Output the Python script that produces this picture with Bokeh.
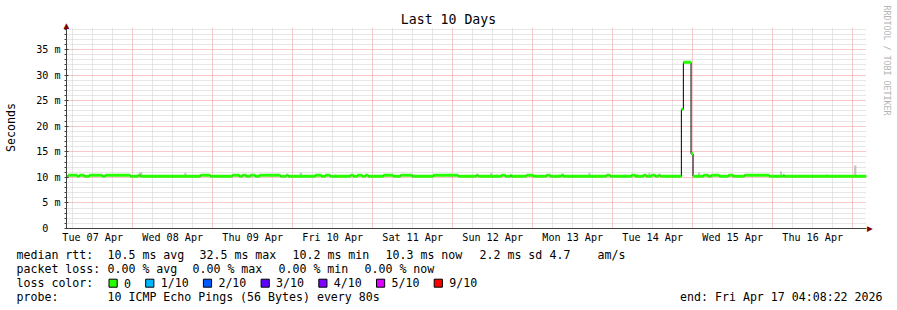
import math
from bokeh.plotting import figure
from bokeh.layouts import column
from bokeh.models import Range1d, FixedTicker, Label, ColumnDataSource
from bokeh.embed import file_html
from bokeh.resources import INLINE

# ---------------- data (time in hours since Tue 07 Apr 2026 00:00) ----------------
start_h = 4.14          # Tue 07 Apr 04:08:22
end_h = 244.14          # Fri 17 Apr 04:08:22

# median rtt (ms): value holds from change_h[i] until the next change
change_h = [4.14, 4.7, 7.4, 8.0, 9.5, 11.0, 14.9, 15.8, 23.3, 25.7,
            26.3, 44.3, 47.3, 53.9, 56.0, 56.9, 58.1, 59.3, 60.8, 62.0,
            68.3, 70.1, 70.7, 78.8, 80.6, 81.8, 83.3, 89.3, 90.2, 91.4,
            92.9, 93.8, 94.7, 99.2, 102.2, 104.3, 107.9, 114.2, 121.7, 127.1,
            127.7, 134.6, 135.8, 137.3, 137.6, 142.1, 144.2, 148.1, 149.3, 152.6,
            153.2, 166.1, 167.3, 173.6, 174.8, 177.2, 178.1, 179.6, 180.8, 181.7,
            182.3, 188.6, 189.2, 191.5, 192.1, 195.2, 196.7, 197.6, 200.0, 202.7,
            204.2, 207.5, 215.0, 219.2, 219.5]
median_ms = [10.2, 10.4, 10.2, 10.4, 10.2, 10.4, 10.2, 10.4, 10.2, 10.4,
             10.2, 10.4, 10.2, 10.4, 10.2, 10.4, 10.2, 10.4, 10.2, 10.4,
             10.2, 10.4, 10.2, 10.4, 10.2, 10.4, 10.2, 10.4, 10.2, 10.4,
             10.2, 10.4, 10.2, 10.4, 10.2, 10.4, 10.2, 10.4, 10.2, 10.4,
             10.2, 10.4, 10.2, 10.4, 10.2, 10.4, 10.2, 10.4, 10.2, 10.4,
             10.2, 10.4, 10.2, 10.4, 10.2, 10.4, 10.2, 10.4, 10.2, 10.4,
             10.2, 23.3, 32.5, 14.6, 10.2, 10.4, 10.2, 10.4, 10.2, 10.4,
             10.2, 10.4, 10.2, 10.4, 10.2]

# smoke (spread of the individual pings)
smoke_start_h = [26.0, 39.5, 74.1, 131.3, 152.7, 160.7, 175.1, 178.7, 193.6, 218.2, 232.1, 240.4]
smoke_end_h = [26.9, 40.1, 74.8, 131.9, 153.3, 161.3, 175.7, 179.3, 194.2, 218.8, 232.6, 241.1]
smoke_lo_ms = [10.2, 10.2, 10.2, 10.2, 10.2, 10.2, 10.2, 10.2, 10.2, 10.2, 10.2, 10.2]
smoke_hi_ms = [11.0, 10.9, 10.9, 10.9, 10.7, 10.9, 10.7, 10.9, 11.0, 11.2, 10.6, 12.3]

day_labels = ["Tue 07 Apr", "Wed 08 Apr", "Thu 09 Apr", "Fri 10 Apr", "Sat 11 Apr",
              "Sun 12 Apr", "Mon 13 Apr", "Tue 14 Apr", "Wed 15 Apr", "Thu 16 Apr"]
y_ticks_ms = [0, 5, 10, 15, 20, 25, 30, 35]
y_tick_labels = ["0\u00a0\u00a0", "5 m", "10 m", "15 m", "20 m", "25 m", "30 m", "35 m"]

loss_labels = ["0", "1/10", "2/10", "3/10", "4/10", "5/10", "9/10"]
loss_colors = ["#26ff00", "#00b8ff", "#0059ff", "#5e00ff", "#7e00ff", "#dd00ff", "#ff0000"]

title_text = "Last 10 Days"
y_unit_text = "Seconds"
watermark_text = "RRDTOOL / TOBI OETIKER"
rtt_parts = ["median rtt:", "10.5 ms avg", "32.5 ms max", "10.2 ms min", "10.3 ms now",
             "2.2 ms sd", "4.7", "am/s"]
loss_parts = ["packet loss:", "0.00 % avg", "0.00 % max", "0.00 % min", "0.00 % now"]
color_head = "loss color:"
probe_parts = ["probe:", "10 ICMP Echo Pings (56 Bytes) every 80s"]
end_text = "end: Fri Apr 17 04:08:22 2026"

# legend layout (page pixels)
rtt_x = [16, 107, 199, 292, 385, 479, 549, 597]
loss_x = [16, 107, 192, 278, 364]
probe_x = [16, 107]
row_y = [254, 268.3, 282.7, 296.7]

# ---------------- chart figure ----------------
W = 897
H1 = 246                  # chart part
H2 = 310 - H1             # legend part
FL, FR, FT, FB = 66, 866, 27, 228
MONO = "DejaVu Sans Mono"

p = figure(width=W, height=H1, x_range=Range1d(start_h, end_h), y_range=Range1d(0, 39.3),
           output_backend="svg", toolbar_location=None,
           min_border_left=FL, min_border_right=W - FR, min_border_top=FT, min_border_bottom=H1 - FB,
           background_fill_color="white", border_fill_color="white", outline_line_color=None)

midnights = [24 * d for d in range(1, 11)]
six_h = [6 * k for k in range(1, 41) if (6 * k) % 24 != 0]
noons = [12 + 24 * d for d in range(10)]

grid_major = "#ee9090"
grid_minor = "#cfcfcf"

p.xgrid.ticker = FixedTicker(ticks=midnights, minor_ticks=six_h)
p.xgrid.grid_line_color = grid_major
p.xgrid.grid_line_dash = "1 1"
p.xgrid.minor_grid_line_color = grid_minor
p.xgrid.minor_grid_line_dash = "1 1"

y_minor = [k for k in range(1, 40) if k % 5 != 0]
p.ygrid.ticker = FixedTicker(ticks=y_ticks_ms, minor_ticks=y_minor)
p.ygrid.grid_line_color = grid_major
p.ygrid.grid_line_dash = "1 1"
p.ygrid.minor_grid_line_color = grid_minor
p.ygrid.minor_grid_line_dash = "1 1"

xa = p.xaxis[0]
xa.ticker = FixedTicker(ticks=noons)
xa.major_label_overrides = {n: lab for n, lab in zip(noons, day_labels)}
xa.major_tick_out = 0
xa.major_tick_in = 0
xa.minor_tick_out = 0
xa.major_label_standoff = 3
xa.major_label_text_font = MONO
xa.major_label_text_font_size = "10.1px"
xa.major_label_text_color = "#000000"
xa.axis_line_color = "#404040"

ya = p.yaxis[0]
ya.ticker = FixedTicker(ticks=y_ticks_ms, minor_ticks=y_minor)
ya.major_label_overrides = {v: lab for v, lab in zip(y_ticks_ms, y_tick_labels)}
ya.major_tick_out = 2
ya.major_tick_in = 2
ya.minor_tick_out = 2
ya.minor_tick_in = 0
ya.major_tick_line_color = "#404040"
ya.minor_tick_line_color = "#404040"
ya.major_label_standoff = 4
ya.major_label_text_font = MONO
ya.major_label_text_font_size = "10.1px"
ya.major_label_text_color = "#000000"
ya.axis_line_color = "#404040"

smoke_src = ColumnDataSource(dict(left=smoke_start_h, right=smoke_end_h,
                                  bottom=smoke_lo_ms, top=smoke_hi_ms))
p.quad(left="left", right="right", bottom="bottom", top="top", source=smoke_src,
       fill_color="#c4c4c4", line_color=None)

p.step(x=change_h + [end_h], y=median_ms + [median_ms[-1]], mode="after",
       line_color="#000000", line_width=1)

seg_src = ColumnDataSource(dict(x0=change_h, x1=change_h[1:] + [end_h], y=median_ms))
p.segment(x0="x0", y0="y", x1="x1", y1="y", source=seg_src,
          line_color=loss_colors[0], line_width=3, line_cap="butt")


def text(fig, t, cx, cy, place="center", size="11.6px", align="left", color="#000000",
         angle=0.0, font=MONO, **kw):
    fig.add_layout(Label(x=cx, y=cy, x_units="canvas", y_units="canvas", text=t,
                         text_font=font, text_font_size=size, text_align=align,
                         text_baseline="middle", text_color=color, angle=angle, **kw), place)

# side-panel texts of the chart (not clipped to the plot area)
text(p, title_text, 448, 19, "above", size="13.2px", align="center")
text(p, y_unit_text, 10, 127, "left", align="center", angle=math.pi / 2)
text(p, watermark_text, 886, 60, "right", size="8.3px", align="center", color="#b4b4b4",
     angle=-math.pi / 2)
arrow_col = "#800000"
text(p, "\u25b2", FL, 24.5, "left", size="7.5px", align="center", color=arrow_col, font="DejaVu Sans")
text(p, "\u25b6", 869.5, FB, "right", size="7.5px", align="center", color=arrow_col, font="DejaVu Sans")

# ---------------- legend strip (its plot area covers its whole canvas) ----------------
lg = figure(width=W, height=H2, x_range=Range1d(0, 1), y_range=Range1d(0, 1),
            output_backend="svg", toolbar_location=None,
            x_axis_location=None, y_axis_location=None,
            min_border_left=0, min_border_right=0, min_border_top=0, min_border_bottom=0,
            background_fill_color="white", border_fill_color="white", outline_line_color=None)
lg.grid.visible = False

# do not line up the two plot areas with each other
for fig in (p, lg):
    try:
        fig.frame_align = False
    except Exception:
        pass

def ltext(t, cx, cy, **kw):
    text(lg, t, cx, cy - H1, **kw)

for t, x in zip(rtt_parts, rtt_x):
    ltext(t, x, row_y[0])
for t, x in zip(loss_parts, loss_x):
    ltext(t, x, row_y[1])
ltext(color_head, 16, row_y[2])
for t, x in zip(probe_parts, probe_x):
    ltext(t, x, row_y[3])
ltext(end_text, 882, row_y[3], align="right")

CW = 7.0
x_sq = 108.5
for lab, col in zip(loss_labels, loss_colors):
    ltext("\u00a0\u00a0", x_sq, row_y[2], size="6.8px",
          background_fill_color=col, background_fill_alpha=1.0,
          border_line_color="#000000", border_line_width=1)
    ltext(lab, x_sq + 15, row_y[2])
    x_sq = x_sq + 15 + CW * len(lab) + 14.7

layout = column(p, lg, spacing=0)
open("out.html", "w").write(file_html(layout, INLINE))
